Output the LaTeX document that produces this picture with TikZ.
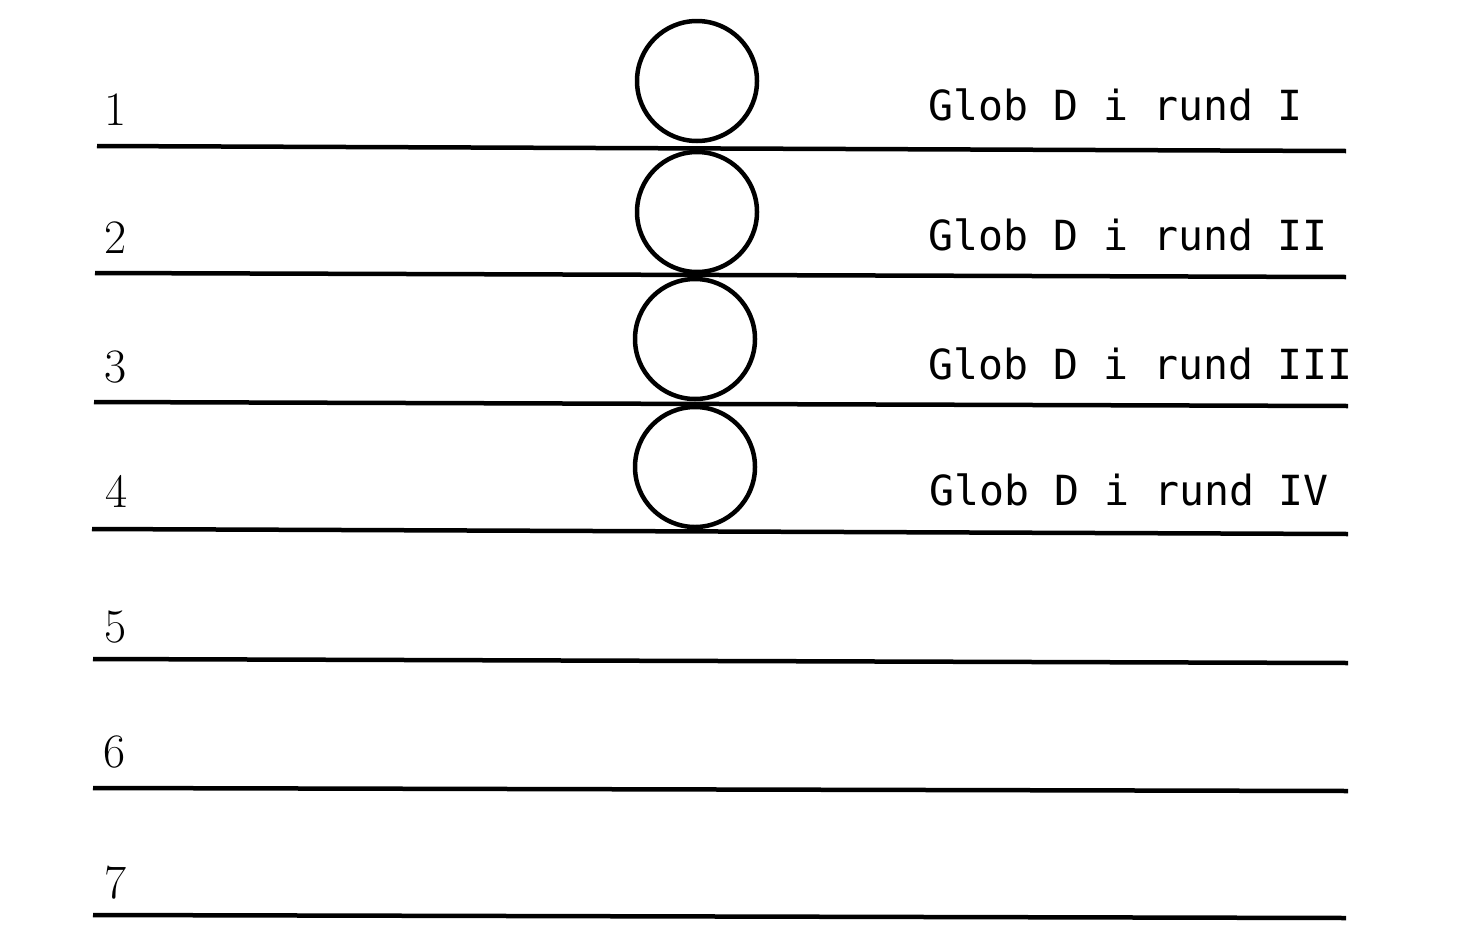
\documentclass[tikz,border=0pt]{standalone}
\usepackage{fontspec}
\newfontfamily\labfont{DejaVu Sans Mono}
\begin{document}
\begin{tikzpicture}[x=1pt,y=-1pt,
  rule/.style={line width=4.5pt},
  ring/.style={circle,draw,line width=4.5pt,minimum size=120pt,inner sep=0pt},
  num/.style={anchor=base,inner sep=0pt,font=\fontsize{48}{48}\selectfont},
  lab/.style={anchor=base west,inner sep=0pt,font=\labfont\fontsize{41.5}{41.5}\selectfont}]
\useasboundingbox (0,0) rectangle (1476,940);
% lines
\coordinate (a1) at (97,146);  \coordinate (b1) at (1346,151);
\coordinate (a2) at (95,273);  \coordinate (b2) at (1346,277);
\coordinate (a3) at (94,402);  \coordinate (b3) at (1348,406);
\coordinate (a4) at (92,529);  \coordinate (b4) at (1348,534);
\coordinate (a5) at (93,659);  \coordinate (b5) at (1348,663);
\coordinate (a6) at (93,788);  \coordinate (b6) at (1348,791);
\coordinate (a7) at (93,915);  \coordinate (b7) at (1346,918);
\foreach \i in {1,...,7} \draw[rule] (a\i) -- (b\i);
% circles
\node[ring] (c1) at (697,81) {};
\node[ring] (c2) at (697,212) {};
\node[ring] (c3) at (695,339) {};
\node[ring] (c4) at (695,467) {};
% numbers
\node[num] (n1) at (116,125) {1};
\node[num] (n2) at (116,253) {2};
\node[num] (n3) at (116,382) {3};
\node[num] (n4) at (117,507) {4};
\node[num] (n5) at (116,642) {5};
\node[num] (n6) at (115,767) {6};
\node[num] (n7) at (116,898) {7};
% labels
\node[lab] (l1) at (928,120) {Glob D i rund I};
\node[lab] (l2) at (928,250) {Glob D i rund II};
\node[lab] (l3) at (928,379) {Glob D i rund III};
\node[lab] (l4) at (929,505) {Glob D i rund IV};
\end{tikzpicture}
\end{document}
